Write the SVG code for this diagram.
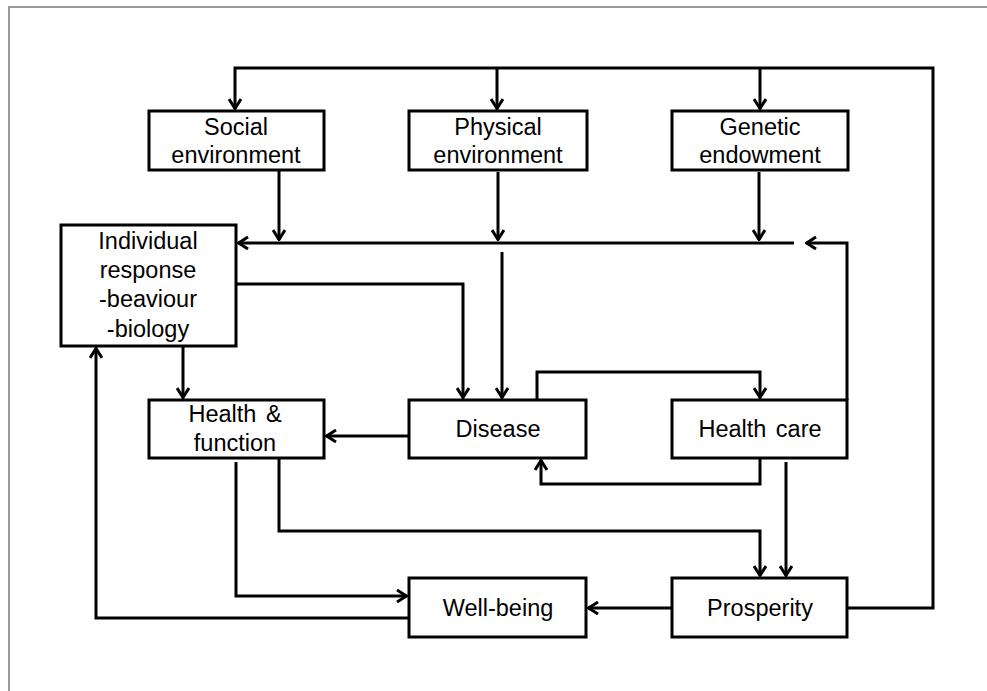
<svg xmlns="http://www.w3.org/2000/svg" width="987" height="691" viewBox="0 0 987 691">
<defs>
<style>
.box{fill:#fff;stroke:#000;stroke-width:3}
.t{font-family:"Liberation Sans",Arial,sans-serif;font-size:23.5px;fill:#000;text-anchor:middle;word-spacing:3px}
.c{fill:none;stroke:#000;stroke-width:3;stroke-linejoin:miter}
</style>
<marker id="ah" viewBox="0 0 12 14" refX="11" refY="7" markerWidth="12" markerHeight="14" markerUnits="userSpaceOnUse" orient="auto">
<path d="M1,1 L10.5,7 L1,13" fill="none" stroke="#000" stroke-width="3"/>
</marker>
</defs>
<rect width="987" height="691" fill="#fff"/>
<path d="M9,691 V7 H987" fill="none" stroke="#999" stroke-width="2"/>
<g id="connectors">
<path class="c" d="M847,608 H933 V68 H235 V109" marker-end="url(#ah)"/>
<path class="c" d="M497,68 V109" marker-end="url(#ah)"/>
<path class="c" d="M760,68 V109" marker-end="url(#ah)"/>
<path class="c" d="M279,170 V240" marker-end="url(#ah)"/>
<path class="c" d="M498,172 V240" marker-end="url(#ah)"/>
<path class="c" d="M759,172 V240" marker-end="url(#ah)"/>
<path class="c" d="M794,243 H238" marker-end="url(#ah)"/>
<path class="c" d="M847,400 V243 H806" marker-end="url(#ah)"/>
<path class="c" d="M502,252 V398" marker-end="url(#ah)"/>
<path class="c" d="M236,284 H463 V398" marker-end="url(#ah)"/>
<path class="c" d="M183,346 V398" marker-end="url(#ah)"/>
<path class="c" d="M409,436 H326" marker-end="url(#ah)"/>
<path class="c" d="M537,400 V372 H760 V398" marker-end="url(#ah)"/>
<path class="c" d="M760,458 V484 H541 V460" marker-end="url(#ah)"/>
<path class="c" d="M786,462 V576" marker-end="url(#ah)"/>
<path class="c" d="M279,458 V531 H760 V576" marker-end="url(#ah)"/>
<path class="c" d="M236,462 V596 H407" marker-end="url(#ah)"/>
<path class="c" d="M409,618 H96 V348" marker-end="url(#ah)"/>
<path class="c" d="M672,608 H588" marker-end="url(#ah)"/>
</g>
<g id="social">
<rect class="box" x="149" y="111" width="175" height="59"/>
<text class="t" x="236" y="135">Social</text>
<text class="t" x="236" y="163">environment</text>
</g>
<g id="physical">
<rect class="box" x="409" y="111" width="178" height="59"/>
<text class="t" x="498" y="135">Physical</text>
<text class="t" x="498" y="163">environment</text>
</g>
<g id="genetic">
<rect class="box" x="672" y="111" width="176" height="59"/>
<text class="t" x="760" y="135">Genetic</text>
<text class="t" x="760" y="163">endowment</text>
</g>
<g id="individual">
<rect class="box" x="61" y="225" width="175" height="121"/>
<text class="t" x="148" y="249">Individual</text>
<text class="t" x="148" y="278">response</text>
<text class="t" x="148" y="307">-beaviour</text>
<text class="t" x="148" y="337">-biology</text>
</g>
<g id="health-function">
<rect class="box" x="149" y="400" width="175" height="58"/>
<text class="t" x="235" y="422">Health &amp;</text>
<text class="t" x="235" y="451">function</text>
</g>
<g id="disease">
<rect class="box" x="409" y="400" width="177" height="58"/>
<text class="t" x="498" y="437">Disease</text>
</g>
<g id="health-care">
<rect class="box" x="672" y="400" width="175" height="58"/>
<text class="t" x="760" y="437">Health care</text>
</g>
<g id="well-being">
<rect class="box" x="409" y="578" width="177" height="59"/>
<text class="t" x="498" y="616">Well-being</text>
</g>
<g id="prosperity">
<rect class="box" x="672" y="578" width="175" height="59"/>
<text class="t" x="760" y="616">Prosperity</text>
</g>
</svg>
